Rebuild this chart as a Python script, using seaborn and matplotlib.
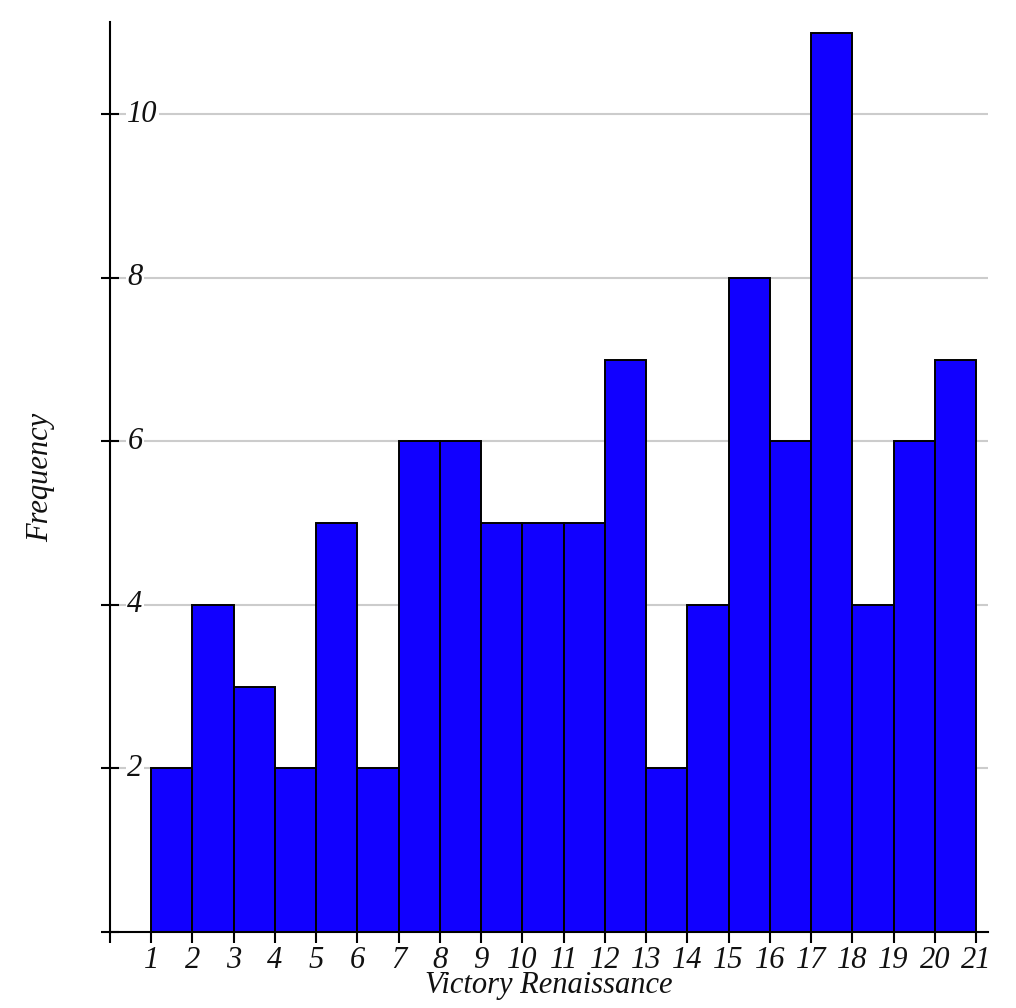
import matplotlib
matplotlib.use("Agg")
import matplotlib.pyplot as plt
import seaborn as sns

# bin edges and counts
bin_edges = list(range(1, 22))
counts = [2, 4, 3, 2, 5, 2, 6, 6, 5, 5, 5, 7, 2, 4, 8, 6, 11, 4, 6, 7]
x_label = "Victory Renaissance"
y_label = "Frequency"

sns.set_style("white")
plt.rcParams["font.family"] = ["Liberation Serif", "DejaVu Serif"]
plt.rcParams["font.style"] = "italic"
plt.rcParams["text.color"] = "#111111"
plt.rcParams["axes.labelcolor"] = "#111111"

mids = [e + 0.5 for e in bin_edges[:-1]]

fig = plt.figure(figsize=(10.16, 10.08), dpi=100)
ax = fig.add_axes([110 / 1016, 76 / 1008, 878 / 1016, 910 / 1008])

sns.histplot(x=mids, weights=counts, bins=bin_edges, ax=ax,
             color="#1100ff", alpha=1.0, edgecolor="black", linewidth=1.4)

ax.set_xlim(0, 21.29)
ax.set_ylim(0, 11.13)

ax.set_xticks(range(0, 22))
ax.set_xticklabels([""] + [str(i) for i in range(1, 22)])
ax.set_yticks(range(0, 11, 2))
ax.set_yticklabels([""] + [str(i) for i in range(2, 11, 2)])

ax.set_axisbelow(True)
ax.yaxis.grid(True, color="#cccccc", linewidth=1.5)
ax.xaxis.grid(False)

for side in ["top", "right"]:
    ax.spines[side].set_visible(False)
for side in ["left", "bottom"]:
    ax.spines[side].set_color("black")
    ax.spines[side].set_linewidth(1.5)

ax.tick_params(axis="x", bottom=True, direction="out", length=8, width=1.5,
               color="black", labelcolor="#111111", labelsize=22, pad=2)
ax.tick_params(axis="y", left=True, direction="inout", length=13, width=1.5,
               color="black", labelcolor="#111111", labelsize=22, pad=-19)
for lab in ax.get_yticklabels():
    lab.set_horizontalalignment("left")
    lab.set_verticalalignment("center")
    lab.set_bbox(dict(facecolor="white", edgecolor="none", pad=1.0))

ax.set_xlabel(x_label, fontsize=22, labelpad=-3)
ax.set_ylabel(y_label, fontsize=22, labelpad=33)

fig.savefig("out.png", dpi=100)
